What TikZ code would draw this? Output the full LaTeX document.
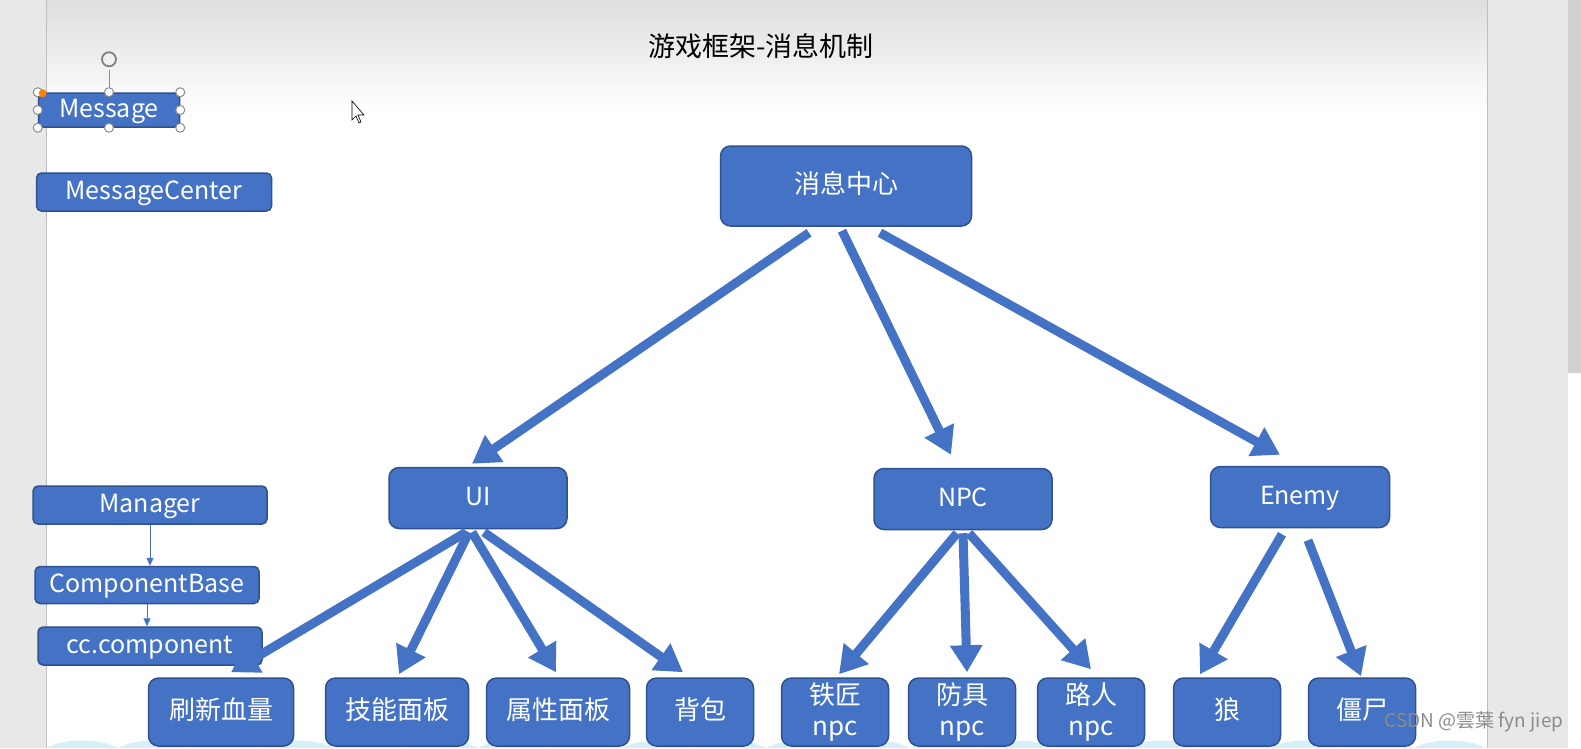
\documentclass[tikz,border=0pt]{standalone}
\usepackage{fontspec}
\setmainfont{Noto Sans CJK SC}
\usetikzlibrary{arrows.meta,calc,shapes}
\definecolor{boxblue}{HTML}{4472C4}
\definecolor{boxline}{HTML}{2F528F}
\definecolor{wave}{HTML}{D6EFF9}
\tikzstyle{box} = [rectangle, draw=boxline, line width=1.5pt, fill=boxblue,
    text=white, rounded corners=10pt, inner sep=0pt, align=center,
    text height=17pt, text depth=3pt,
    font=\fontsize{25}{30}\selectfont]
\tikzstyle{small} = [box, rounded corners=5pt]
\tikzstyle{leaf} = [box, minimum height=68pt, font=\fontsize{26}{31}\selectfont]
\tikzstyle{fat} = [draw=boxblue, line width=9pt, -{Triangle[length=27pt,width=31pt]}]
\tikzstyle{slim} = [draw=boxblue, line width=1pt, -{Triangle[length=8pt,width=7pt]}]

\begin{document}
\begin{tikzpicture}[x=1pt,y=-1pt]
  \useasboundingbox (0,0) rectangle (1581,748);

  % window and slide
  \fill[black!9] (0,0) rectangle (1581,748);
  \fill[white] (46,0) rectangle (1487,748);
  \shade[top color=black!13, bottom color=white] (46,0) rectangle (1487,112);
  \draw[black!25] (46,0) -- (46,748);
  \draw[black!25] (1487,0) -- (1487,748);
  \fill[black!18] (1568,0) rectangle (1581,373);
  \fill[white] (1568,373) rectangle (1581,748);
  \fill[wave] (46,748) \foreach \k in {1,...,20}{ .. controls +(18,-10) and +(-18,-10) .. ++(72,0) } -- cycle;

  \node[font=\fontsize{27}{30}\selectfont] (title) at (761,46) {游戏框架-消息机制};

  % left column
  \node[small, minimum width=141pt, minimum height=34pt] (msg)  at (109,110) {Message};
  \node[small, minimum width=235pt, minimum height=38pt] (mc)   at (154,192) {MessageCenter};
  \node[small, minimum width=234pt, minimum height=38pt] (mgr)  at (150,505) {Manager};
  \node[small, minimum width=224pt, minimum height=37pt] (cb)   at (147,585) {ComponentBase};
  \node[small, minimum width=224pt, minimum height=38pt] (cc)   at (150,646) {cc.component};

  \path (mgr.south) edge[slim] (mgr.south |- cb.north)
        (cb.south)  edge[slim] (cb.south |- cc.north);

  % selection handles
  \draw[black!45, line width=1pt] (msg.north) -- ++(0,-22);
  \draw[black!50, line width=1.8pt] ($(msg.north)+(0,-33)$) circle (7pt);
  \foreach \a in {north west,north,north east,east,south east,south,south west,west}
    \draw[black!45, fill=white, line width=1pt] (msg.\a) circle (4.5pt);
  \fill[orange] ($(msg.north west)+(5,1)$) circle (4pt);
  \draw[fill=white, line width=0.6pt] (352,101) -- (352,120) -- (356,116) -- (359,123)
        -- (361,122) -- (358,115) -- (364,115) -- cycle;

  % tree
  \node[box, minimum width=251pt, minimum height=80pt, font=\fontsize{26}{30}\selectfont] (hub) at (846,186) {消息中心};
  \node[box, minimum width=178pt, minimum height=61pt] (ui)    at (478,498)  {UI};
  \node[box, minimum width=178pt, minimum height=61pt] (npc)   at (963,499)  {NPC};
  \node[box, minimum width=179pt, minimum height=61pt] (enemy) at (1300,497) {Enemy};

  \node[leaf, minimum width=145pt] (hp)    at (221,712)  {刷新血量};
  \node[leaf, minimum width=143pt] (skill) at (397,712)  {技能面板};
  \node[leaf, minimum width=143pt] (attr)  at (558,712)  {属性面板};
  \node[leaf, minimum width=107pt] (bag)   at (700,712)  {背包};
  \node[leaf, minimum width=107pt, text height=, text depth=] (smith) at (835,712)  {铁匠\\npc};
  \node[leaf, minimum width=107pt, text height=, text depth=] (armor) at (962,712)  {防具\\npc};
  \node[leaf, minimum width=107pt, text height=, text depth=] (pass)  at (1091,712) {路人\\npc};
  \node[leaf, minimum width=107pt] (wolf)  at (1227,712) {狼};
  \node[leaf, minimum width=107pt] (zomb)  at (1362,712) {僵尸};

  \draw[fat] ($(hub.south)+(-37,6)$) -- ($(ui.north)+(-6,-3)$);
  \draw[fat] ($(hub.south)+(-4,4)$)  -- ($(npc.north)+(-12,-13)$);
  \draw[fat] ($(hub.south)+(34,6)$)  -- ($(enemy.north)+(-20,-11)$);

  \draw[fat] ($(ui.south)+(-12,3)$) -- ($(hp.north)+(10,-5)$);
  \draw[fat] ($(ui.south)+(-9,3)$)  -- ($(skill.north)+(2,-3)$);
  \draw[fat] ($(ui.south)+(-6,3)$)  -- ($(attr.north)+(-2,-5)$);
  \draw[fat] ($(ui.south)+(6,3)$)   -- ($(bag.north)+(-17,-5)$);

  \draw[fat] ($(npc.south)+(-6,3)$) -- ($(smith.north)+(4,-3)$);
  \draw[fat] ($(npc.south)+(0,3)$)  -- ($(armor.north)+(5,-5)$);
  \draw[fat] ($(npc.south)+(6,3)$)  -- ($(pass.north)+(0,-8)$);

  \draw[fat] ($(enemy.south)+(-18,6)$) -- ($(wolf.north)+(-27,-3)$);
  \draw[fat] ($(enemy.south)+(8,12)$)  -- ($(zomb.north)+(-1,-1)$);

  \node[text=black!45, font=\fontsize{19}{22}\selectfont, anchor=east] (mark) at (1567,722) {CSDN @雲葉 fyn jiep};
\end{tikzpicture}
\end{document}
